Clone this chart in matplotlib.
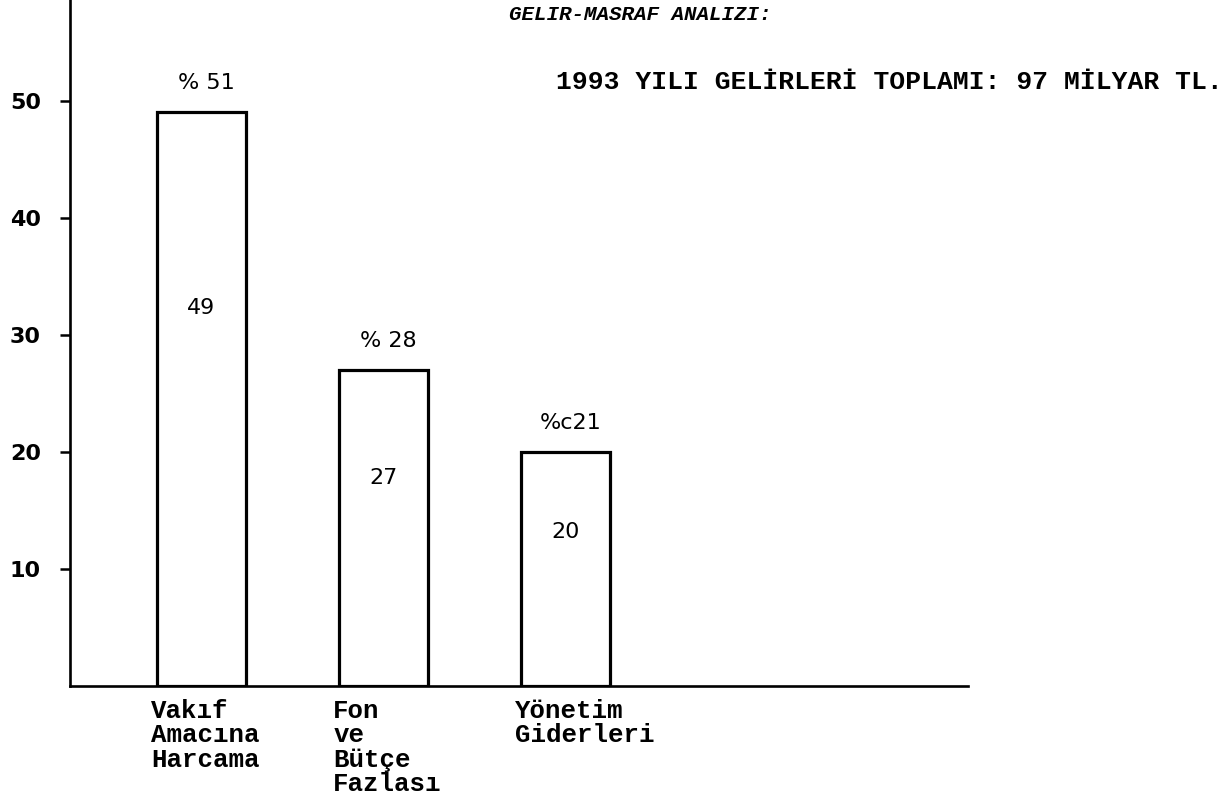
import matplotlib.pyplot as plt
import numpy as np

# values
categories = ["Vakıf\nAmacına\nHarcama", "Fon\nve\nBütçe\nFazlası", "Yönetim\nGiderleri"]
amounts = [49, 27, 20]           # milyar TL, written inside the bars
percent_labels = ["% 51", "% 28", "%c21"]
y_ticks = [10, 20, 30, 40, 50]
y_tick_labels = ["10", "20", "30", "40", "50"]
title = "GELIR-MASRAF ANALIZI:"
total_note = "1993 YILI GELİRLERİ TOPLAMI: 97 MİLYAR TL."

mono = ["Liberation Mono", "DejaVu Sans Mono"]

fig = plt.figure(figsize=(12.32, 7.97), dpi=100)
ax = fig.add_axes([0.0568, 0.139, 0.729, 0.861])

x = np.arange(len(categories))
bars = ax.bar(x, amounts, width=0.49, facecolor="white", edgecolor="black", linewidth=2.3)

ax.set_xlim(-0.72, 4.21)
ax.set_ylim(0, 58.6)

# numbers inside the bars
for xi, v in zip(x, amounts):
    ax.text(xi, v * 0.66, str(v), ha="center", va="center", fontsize=16,
            family="DejaVu Sans", color="black")

# percentages above the bars
for b, lab in zip(bars, percent_labels):
    ax.annotate(lab, (b.get_x() + b.get_width() / 2 + 0.03, b.get_height()),
                xytext=(0, 21), textcoords="offset points", ha="center", va="center",
                fontsize=16, family="DejaVu Sans")

# category labels under the baseline, left edge near the bar's left edge
for b, lab in zip(bars, categories):
    ax.text(b.get_x() - 0.03, -1.1, lab, ha="left", va="top",
            fontsize=18.5, family=mono, fontweight="bold", linespacing=1.02)

ax.set_xticks([])
ax.set_yticks(y_ticks)
ax.set_yticklabels(y_tick_labels, fontsize=16, fontweight="bold", family="DejaVu Sans")
ax.tick_params(axis="y", direction="out", length=7, width=1.8, pad=14)

for s in ["top", "right"]:
    ax.spines[s].set_visible(False)
ax.spines["left"].set_linewidth(1.9)
ax.spines["bottom"].set_linewidth(1.9)

fig.text(0.52, 0.982, title, ha="center", va="center", fontsize=15,
         style="italic", family=mono, fontweight="bold")
fig.text(0.451, 0.897, total_note, ha="left", va="center", fontsize=19,
         family=mono, fontweight="bold")

fig.savefig("out.png", dpi=100)
